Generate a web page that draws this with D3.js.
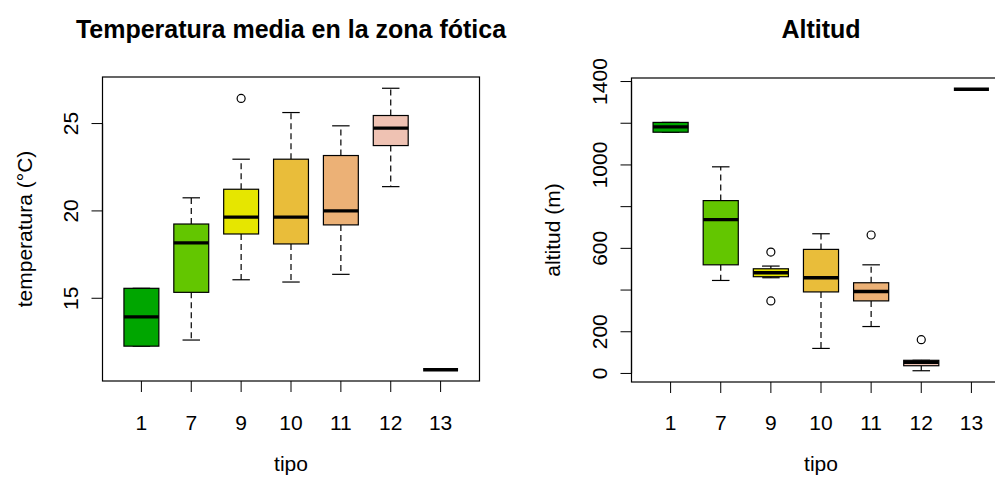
<!DOCTYPE html>
<html><head><meta charset="utf-8">
<script src="https://cdn.jsdelivr.net/npm/d3@7"></script>
<style>
html,body{margin:0;padding:0;background:#fff;}
svg text{font-family:"Liberation Sans",Arial,sans-serif;fill:#000;}
</style></head>
<body><svg id="c" width="995" height="480"></svg>
<script>
// ---- data ----
const tipos = ["1","7","9","10","11","12","13"];
const colores = ["#00A600","#63C600","#E6E600","#E9BD3A","#ECB176","#EFC2B3","#F2F2F2"];

const tempLow  = [12.26, 12.61, 16.06, 15.93, 16.37, 21.39, 10.91];
const tempQ1   = [12.26, 15.34, 18.68, 18.11, 19.20, 23.74, 10.91];
const tempMed  = [13.94, 18.17, 19.64, 19.64, 20.00, 24.74, 10.91];
const tempQ3   = [15.57, 19.25, 21.24, 22.96, 23.17, 25.46, 10.91];
const tempHigh = [15.57, 20.75, 22.96, 25.63, 24.87, 27.02, 10.91];
const tempOut  = [[], [], [26.44], [], [], [], []];
const tempTicks = [15, 20, 25];
const tempTickLabels = [15, 20, 25];

const altLow  = [1157, 446, 459, 120, 225, 13, 1363];
const altQ1   = [1157, 521, 464, 391, 348, 37, 1363];
const altMed  = [1183, 738, 483, 459, 393, 53, 1363];
const altQ3   = [1204, 829, 502, 595, 435, 63, 1363];
const altHigh = [1204, 991, 515, 670, 521, 63, 1363];
const altOut  = [[], [], [582, 348], [], [664], [162], []];
const altTicks = [0, 200, 400, 600, 800, 1000, 1200, 1400];
const altTickLabels = [0, 200, 600, 1000, 1400];

const svg = d3.select("#c");

function panel(cfg) {
  const n = tipos.length;
  const all = [].concat(cfg.low, cfg.high, cfg.out.flat());
  const mn = d3.min(all), mx = d3.max(all), pad = (mx - mn) * 0.04;
  const x = d3.scaleLinear().domain([0.5 - 0.28, n + 0.5 + 0.28]).range([cfg.x0, cfg.x1]);
  const y = d3.scaleLinear().domain([mn - pad, mx + pad]).range([cfg.y0, cfg.y1]);
  const g = svg.append("g");
  const bw = 0.35; // half box width in units
  const sw = 0.175;

  tipos.forEach((t, i) => {
    const cx = x(i + 1);
    // whiskers
    g.append("line").attr("x1", cx).attr("x2", cx).attr("y1", y(cfg.q3[i])).attr("y2", y(cfg.high[i]))
      .attr("stroke", "#000").attr("stroke-width", 1.2).attr("stroke-dasharray", "6,4");
    g.append("line").attr("x1", cx).attr("x2", cx).attr("y1", y(cfg.q1[i])).attr("y2", y(cfg.low[i]))
      .attr("stroke", "#000").attr("stroke-width", 1.2).attr("stroke-dasharray", "6,4");
    // staples
    [cfg.high[i], cfg.low[i]].forEach(v => {
      g.append("line").attr("x1", x(i + 1 - sw)).attr("x2", x(i + 1 + sw)).attr("y1", y(v)).attr("y2", y(v))
        .attr("stroke", "#000").attr("stroke-width", 1.2);
    });
    // box
    g.append("rect").attr("x", x(i + 1 - bw)).attr("width", x(i + 1 + bw) - x(i + 1 - bw))
      .attr("y", y(cfg.q3[i])).attr("height", Math.max(0, y(cfg.q1[i]) - y(cfg.q3[i])))
      .attr("fill", colores[i]).attr("stroke", "#000").attr("stroke-width", 1.2);
    // median
    g.append("line").attr("x1", x(i + 1 - bw)).attr("x2", x(i + 1 + bw)).attr("y1", y(cfg.med[i])).attr("y2", y(cfg.med[i]))
      .attr("stroke", "#000").attr("stroke-width", 3.3);
    // outliers
    cfg.out[i].forEach(v => {
      g.append("circle").attr("cx", cx).attr("cy", y(v)).attr("r", 4)
        .attr("fill", "none").attr("stroke", "#000").attr("stroke-width", 1.2);
    });
  });

  // frame
  g.append("rect").attr("x", cfg.x0).attr("y", cfg.y1).attr("width", cfg.x1 - cfg.x0).attr("height", cfg.y0 - cfg.y1)
    .attr("fill", "none").attr("stroke", "#000").attr("stroke-width", 1.2);

  // x axis ticks
  const tl = 11;
  tipos.forEach((t, i) => {
    g.append("line").attr("x1", x(i + 1)).attr("x2", x(i + 1)).attr("y1", cfg.y0).attr("y2", cfg.y0 + tl)
      .attr("stroke", "#000").attr("stroke-width", 1);
    g.append("text").attr("x", x(i + 1)).attr("y", 430).attr("text-anchor", "middle")
      .attr("font-size", 21).text(t);
  });
  // y axis
  g.append("line").attr("x1", cfg.x0).attr("x2", cfg.x0)
    .attr("y1", y(d3.min(cfg.ticks))).attr("y2", y(d3.max(cfg.ticks))).attr("stroke", "#000").attr("stroke-width", 1.2);
  cfg.ticks.forEach(v => {
    g.append("line").attr("x1", cfg.x0 - tl).attr("x2", cfg.x0).attr("y1", y(v)).attr("y2", y(v))
      .attr("stroke", "#000").attr("stroke-width", 1);
  });
  cfg.tickLabels.forEach(v => {
    g.append("text").attr("transform", `translate(${cfg.tlx},${y(v)}) rotate(-90)`)
      .attr("text-anchor", "middle").attr("dominant-baseline", "central").attr("font-size", 21).text(v);
  });
  // axis titles
  g.append("text").attr("x", (cfg.x0 + cfg.x1) / 2).attr("y", 471).attr("text-anchor", "middle")
    .attr("font-size", 21).text("tipo");
  g.append("text").attr("transform", `translate(${cfg.ylx},${(cfg.y0 + cfg.y1) / 2}) rotate(-90)`)
    .attr("text-anchor", "middle").attr("dominant-baseline", "central").attr("font-size", 21).text(cfg.ylab);
  // title
  g.append("text").attr("x", (cfg.x0 + cfg.x1) / 2).attr("y", 38).attr("text-anchor", "middle")
    .attr("font-size", 25).attr("font-weight", "bold").text(cfg.title);
}

panel({
  x0: 102.5, x1: 479.5, y0: 381, y1: 77,
  low: tempLow, q1: tempQ1, med: tempMed, q3: tempQ3, high: tempHigh, out: tempOut,
  ticks: tempTicks, tickLabels: tempTickLabels, tlx: 70, ylx: 24,
  ylab: "temperatura (°C)", title: "Temperatura media en la zona fótica"
});
panel({
  x0: 631.5, x1: 1010.5, y0: 382, y1: 78,
  low: altLow, q1: altQ1, med: altMed, q3: altQ3, high: altHigh, out: altOut,
  ticks: altTicks, tickLabels: altTickLabels, tlx: 599, ylx: 552,
  ylab: "altitud (m)", title: "Altitud"
});
</script>
</body></html>
